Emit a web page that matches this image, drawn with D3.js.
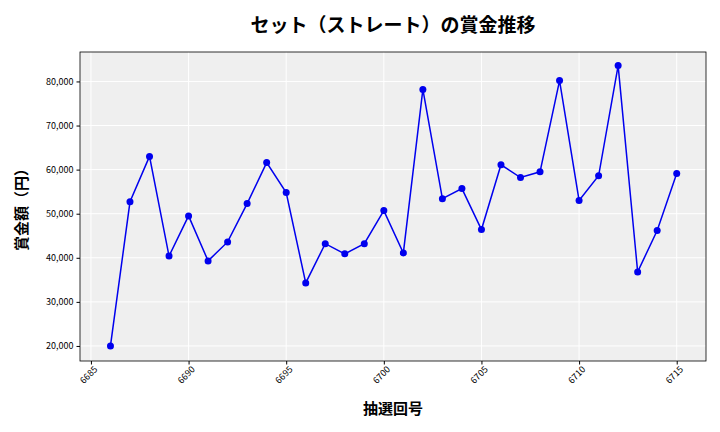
<!DOCTYPE html>
<html><head><meta charset="utf-8">
<script src="https://cdn.jsdelivr.net/npm/d3@7"></script>
<style>body{margin:0;background:#fff}text{font-family:"Noto Sans CJK JP","Noto Sans",sans-serif}</style>
</head><body><svg id="c" width="720" height="432"></svg>
<script>
const draws = [6686,6687,6688,6689,6690,6691,6692,6693,6694,6695,6696,6697,6698,6699,6700,6701,6702,6703,6704,6705,6706,6707,6708,6709,6710,6711,6712,6713,6714,6715];
const prizes = [20000,52700,63000,40400,49500,39300,43600,52300,61600,54800,34300,43200,40900,43200,50700,41100,78200,53400,55700,46400,61100,58200,59500,80200,53000,58600,83600,36800,46200,59100];
const xTicks = [6685,6690,6695,6700,6705,6710,6715];
const yTicks = [20000,30000,40000,50000,60000,70000,80000];
const svg = d3.select("#c");
const L=80,R=706,T=52,B=361;
const x = d3.scaleLinear().domain([6684.44,6716.5]).range([L,R]);
const y = d3.scaleLinear().domain([16590,86680]).range([B,T]);
svg.append("rect").attr("x",L).attr("y",T).attr("width",R-L).attr("height",B-T).attr("fill","#efefef");
const g=svg.append("g");
xTicks.forEach(t=>g.append("line").attr("x1",x(t)).attr("x2",x(t)).attr("y1",T).attr("y2",B).attr("stroke","#fff").attr("stroke-width",1));
yTicks.forEach(t=>g.append("line").attr("x1",L).attr("x2",R).attr("y1",y(t)).attr("y2",y(t)).attr("stroke","#fff").attr("stroke-width",1));
svg.append("rect").attr("x",L).attr("y",T).attr("width",R-L).attr("height",B-T).attr("fill","none").attr("stroke","#000").attr("stroke-width",0.8);
const xa=svg.append("g").attr("transform",`translate(0,${B})`).call(d3.axisBottom(x).tickValues(xTicks).tickFormat(d3.format("d")).tickSize(3.5));
xa.select(".domain").remove();
xa.selectAll("text").attr("font-size",9).attr("text-anchor","end").attr("dx","-0.2em").attr("dy","0.5em").attr("transform","rotate(-45)");
const ya=svg.append("g").attr("transform",`translate(${L},0)`).call(d3.axisLeft(y).tickValues(yTicks).tickFormat(d3.format(",")).tickSize(3.5));
ya.select(".domain").remove();
ya.selectAll("text").attr("font-size",9);
const line=d3.line().x((d,i)=>x(draws[i])).y(d=>y(d));
svg.append("path").datum(prizes).attr("d",line).attr("fill","none").attr("stroke","#0000ee").attr("stroke-width",1.5);
svg.selectAll("circle.p").data(prizes).enter().append("circle").attr("cx",(d,i)=>x(draws[i])).attr("cy",d=>y(d)).attr("r",3.5).attr("fill","#0000ee");
svg.append("text").attr("x",393).attr("y",32).attr("text-anchor","middle").attr("font-size",19).attr("font-weight","bold").text("セット（ストレート）の賞金推移");
svg.append("text").attr("x",393).attr("y",414).attr("text-anchor","middle").attr("font-size",15).attr("font-weight","bold").text("抽選回号");
svg.append("text").attr("transform","translate(27,206) rotate(-90)").attr("text-anchor","middle").attr("font-size",15).attr("font-weight","bold").text("賞金額（円）");
</script></body></html>
